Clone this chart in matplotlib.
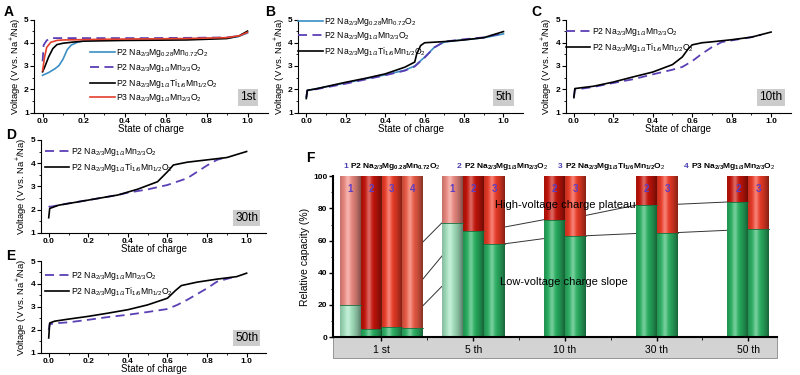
import numpy as np
import matplotlib
matplotlib.use("Agg")
import matplotlib.pyplot as plt

plt.rcParams['font.family'] = ['Liberation Sans', 'DejaVu Sans']
plt.rcParams['mathtext.fontset'] = 'custom'
plt.rcParams['mathtext.rm'] = 'Liberation Sans'
plt.rcParams['mathtext.it'] = 'Liberation Sans:italic'
plt.rcParams['mathtext.bf'] = 'Liberation Sans:bold'

# ---- names ----
n_mg028 = 'P2 Na$_{2/3}$Mg$_{0.28}$Mn$_{0.72}$O$_2$'
n_mg13 = 'P2 Na$_{2/3}$Mg$_{1/3}$Mn$_{2/3}$O$_2$'
n_ti = 'P2 Na$_{2/3}$Mg$_{1/3}$Ti$_{1/6}$Mn$_{1/2}$O$_2$'
n_p3 = 'P3 Na$_{2/3}$Mg$_{1/3}$Mn$_{2/3}$O$_2$'

# ---- A: 1st charge ----
a_blue_x = [0, 0.03, 0.06, 0.08, 0.10, 0.12, 0.14, 0.17, 0.2, 0.3, 0.5, 0.7, 0.9, 0.95, 1.0]
a_blue_y = [2.6, 2.72, 2.88, 3.02, 3.3, 3.7, 3.9, 4.02, 4.08, 4.12, 4.15, 4.17, 4.2, 4.25, 4.42]
a_purp_x = [0, 0.005, 0.02, 0.04, 0.1, 0.3, 0.5, 0.7, 0.9, 0.95, 1.0]
a_purp_y = [3.2, 3.9, 4.1, 4.2, 4.2, 4.2, 4.2, 4.21, 4.23, 4.28, 4.45]
a_blk_x = [0, 0.01, 0.03, 0.05, 0.07, 0.1, 0.15, 0.2, 0.4, 0.7, 0.9, 0.96, 1.0]
a_blk_y = [2.75, 2.95, 3.4, 3.75, 3.92, 3.98, 4.03, 4.07, 4.1, 4.12, 4.18, 4.3, 4.5]
a_red_x = [0, 0.01, 0.02, 0.04, 0.07, 0.1, 0.3, 0.7, 0.9, 0.96, 1.0]
a_red_y = [2.8, 3.4, 3.8, 4.02, 4.1, 4.12, 4.15, 4.18, 4.22, 4.3, 4.45]

# ---- B: 5th charge ----
b_blue_x = [0, 0.005, 0.05, 0.2, 0.3, 0.4, 0.5, 0.55, 0.6, 0.65, 0.7, 0.8, 0.9, 1.0]
b_blue_y = [1.65, 1.95, 2.02, 2.27, 2.45, 2.62, 2.82, 3.0, 3.38, 3.81, 4.03, 4.13, 4.21, 4.38]
b_purp_x = [0, 0.005, 0.05, 0.2, 0.3, 0.4, 0.5, 0.55, 0.6, 0.65, 0.7, 0.8, 0.9, 1.0]
b_purp_y = [1.65, 1.95, 2.0, 2.24, 2.42, 2.6, 2.8, 2.98, 3.36, 3.8, 4.05, 4.15, 4.23, 4.42]
b_blk_x = [0, 0.005, 0.05, 0.2, 0.3, 0.4, 0.5, 0.55, 0.56, 0.58, 0.6, 0.7, 0.8, 0.9, 1.0]
b_blk_y = [1.6, 1.95, 2.02, 2.3, 2.47, 2.66, 2.95, 3.17, 3.52, 3.88, 4.0, 4.05, 4.12, 4.22, 4.48]

# ---- C: 10th charge ----
c_purp_x = [0, 0.005, 0.1, 0.2, 0.3, 0.4, 0.5, 0.55, 0.6, 0.65, 0.7, 0.75, 0.8, 0.9, 0.95]
c_purp_y = [1.65, 1.98, 2.1, 2.27, 2.43, 2.64, 2.84, 2.96, 3.21, 3.53, 3.81, 4.03, 4.1, 4.24, 4.34]
c_blk_x = [0, 0.005, 0.1, 0.2, 0.3, 0.4, 0.5, 0.55, 0.58, 0.6, 0.65, 0.7, 0.8, 0.9, 1.0]
c_blk_y = [1.64, 2.03, 2.13, 2.31, 2.53, 2.74, 3.06, 3.39, 3.74, 3.91, 4.0, 4.04, 4.13, 4.24, 4.46]

# ---- D: 30th charge ----
d_purp_x = [0, 0.005, 0.1, 0.2, 0.35, 0.4, 0.5, 0.6, 0.7, 0.8, 0.85, 0.88]
d_purp_y = [2.15, 2.12, 2.27, 2.41, 2.63, 2.73, 2.87, 3.06, 3.35, 3.9, 4.14, 4.21]
d_blk_x = [0, 0.005, 0.05, 0.2, 0.35, 0.45, 0.55, 0.6, 0.63, 0.7, 0.8, 0.9, 1.0]
d_blk_y = [1.65, 2.05, 2.19, 2.41, 2.63, 2.88, 3.2, 3.63, 3.92, 4.04, 4.14, 4.24, 4.5]

# ---- E: 50th charge ----
e_purp_x = [0, 0.005, 0.05, 0.1, 0.2, 0.3, 0.4, 0.5, 0.6, 0.65, 0.7, 0.8, 0.85, 0.9, 0.93]
e_purp_y = [2.0, 2.25, 2.3, 2.33, 2.44, 2.56, 2.66, 2.78, 2.91, 3.09, 3.31, 3.81, 4.1, 4.22, 4.29]
e_blk_x = [0, 0.005, 0.03, 0.1, 0.2, 0.3, 0.4, 0.5, 0.6, 0.64, 0.67, 0.75, 0.85, 0.95, 1.0]
e_blk_y = [1.65, 2.3, 2.38, 2.47, 2.59, 2.73, 2.88, 3.09, 3.38, 3.71, 3.93, 4.08, 4.21, 4.32, 4.47]

# ---- F: relative capacity ----
cycles = ['1 st', '5 th', '10 th', '30 th', '50 th']
bar_materials = [[1, 2, 3, 4], [1, 2, 3], [2, 3], [2, 3], [2, 3]]
low_voltage = [[20, 5, 6.5, 5.5], [71, 66, 58], [73, 63], [82, 65], [84, 67]]
material_names = [n_mg028, n_mg13, n_ti, n_p3]

blue = '#3b8fc4'
purple = '#5a3fb5'
red = '#e5402c'

fig = plt.figure(figsize=(8, 3.75), dpi=100)


def volt_axes(rect, label, cyc, lx, ly):
    ax = fig.add_axes(rect)
    ax.set_xlim(-0.04, 1.1)
    ax.set_ylim(1, 5)
    for s in ['top', 'right']:
        ax.spines[s].set_visible(False)
    ax.spines['left'].set_bounds(1, 5)
    ax.set_xticks([0, 0.2, 0.4, 0.6, 0.8, 1.0])
    ax.set_xticks(np.arange(0.1, 1.1, 0.2), minor=True)
    ax.set_yticks([1, 2, 3, 4, 5])
    ax.set_yticks([1.5, 2.5, 3.5, 4.5], minor=True)
    ax.xaxis.set_major_formatter(matplotlib.ticker.FormatStrFormatter('%.1f'))
    ax.tick_params(labelsize=6, length=3, width=0.8, pad=1)
    ax.tick_params(which='minor', length=1.5)
    for t in ax.get_xticklabels() + ax.get_yticklabels():
        t.set_fontweight('bold')
    ax.set_xlabel('State of charge', fontsize=7, labelpad=-1)
    ax.set_ylabel('Voltage (V vs. Na$^{+}$/Na)', fontsize=6.8, labelpad=1)
    ax.text(1.0, 1.65, cyc, fontsize=8.5, ha='center', va='center',
            bbox=dict(fc='#cccccc', ec='none', pad=1.5))
    fig.text(lx, ly, label, fontsize=10, fontweight='bold', va='center')
    return ax


leg_kw = dict(frameon=False, fontsize=6.2, handlelength=2.8, labelspacing=0.3,
              handletextpad=0.2, borderaxespad=0, borderpad=0)

# A
ax = volt_axes([0.043, 0.70, 0.292, 0.248], 'A', '1st', 0.004, 0.968)
ax.plot(a_blue_x, a_blue_y, color=blue, lw=1.2, label=n_mg028)
ax.plot(a_purp_x, a_purp_y, color=purple, lw=1.3, dashes=(5, 3), label=n_mg13)
ax.plot(a_blk_x, a_blk_y, color='black', lw=1.2, label=n_ti)
ax.plot(a_red_x, a_red_y, color=red, lw=1.2, label=n_p3)
ax.legend(loc='upper left', bbox_to_anchor=(0.24, 0.7), **leg_kw)

# B
ax = volt_axes([0.373, 0.70, 0.281, 0.248], 'B', '5th', 0.331, 0.968)
ax.plot(b_blue_x, b_blue_y, color=blue, lw=1.2, label=n_mg028)
ax.plot(b_purp_x, b_purp_y, color=purple, lw=1.3, dashes=(5, 3), label=n_mg13)
ax.plot(b_blk_x, b_blk_y, color='black', lw=1.2, label=n_ti)
ax.legend(loc='upper left', bbox_to_anchor=(0.0, 1.04), **leg_kw)

# C
ax = volt_axes([0.7075, 0.70, 0.281, 0.248], 'C', '10th', 0.664, 0.968)
ax.plot(c_purp_x, c_purp_y, color=purple, lw=1.3, dashes=(5, 3), label=n_mg13)
ax.plot(c_blk_x, c_blk_y, color='black', lw=1.2, label=n_ti)
ax.legend(loc='upper left', bbox_to_anchor=(0.0, 0.93), **leg_kw)

# D
ax = volt_axes([0.051, 0.379, 0.282, 0.248], 'D', '30th', 0.008, 0.64)
ax.plot(d_purp_x, d_purp_y, color=purple, lw=1.3, dashes=(5, 3), label=n_mg13)
ax.plot(d_blk_x, d_blk_y, color='black', lw=1.2, label=n_ti)
ax.legend(loc='upper left', bbox_to_anchor=(0.02, 0.93), **leg_kw)

# E
ax = volt_axes([0.051, 0.059, 0.282, 0.245], 'E', '50th', 0.008, 0.318)
ax.plot(e_purp_x, e_purp_y, color=purple, lw=1.3, dashes=(5, 3), label=n_mg13)
ax.plot(e_blk_x, e_blk_y, color='black', lw=1.2, label=n_ti)
ax.legend(loc='upper left', bbox_to_anchor=(0.02, 0.90), **leg_kw)

# F
red_cols = {1: '#ef8b82', 2: '#c8150b', 3: '#ef3b27', 4: '#ef5c46'}
green_cols = {1: '#a4e4c0', 2: '#28b262', 3: '#2db466', 4: '#2db466'}
w = 0.228

axf = fig.add_axes([0.416, 0.101, 0.555, 0.429])
pos = {}
shade_t = np.linspace(0, 1, 64)
dark = np.zeros((1, 64, 4))
dark[..., 3] = 0.45 * (np.abs(shade_t - 0.38) / 0.62) ** 1.8
light = np.ones((1, 64, 4))
light[..., 3] = 0.35 * np.exp(-((shade_t - 0.38) / 0.13) ** 2)

for i, (mats, lows) in enumerate(zip(bar_materials, low_voltage)):
    n = len(mats)
    for k, (m, lv) in enumerate(zip(mats, lows)):
        xc = i + 1 + (k - (n - 1) / 2) * w
        pos[(i, m)] = (xc, lv)
        axf.bar(xc, lv, width=w, color=green_cols[m], zorder=2)
        axf.bar(xc, 100 - lv, bottom=lv, width=w, color=red_cols[m], zorder=2)
        for img in (dark, light):
            axf.imshow(img, extent=(xc - w / 2, xc + w / 2, 0, 100),
                       aspect='auto', zorder=2.5, interpolation='bilinear')
        axf.plot([xc - w / 2, xc + w / 2], [lv, lv], color='#1d6b3c', lw=0.6, zorder=3)
        axf.text(xc, 92, str(m), color='#5b3fc4', fontsize=7, fontweight='bold',
                 ha='center', va='center', zorder=4)

# connecting lines between the same material in successive cycles
for m in [1, 2, 3]:
    for i in range(len(cycles) - 1):
        if (i, m) in pos and (i + 1, m) in pos:
            x0, y0 = pos[(i, m)]
            x1, y1 = pos[(i + 1, m)]
            axf.plot([x0 + w / 2, x1 - w / 2], [y0, y1], color='#333333', lw=0.7, zorder=1)

axf.set_xlim(0.47, 5.31)
axf.set_ylim(0, 100)
for s in ['top', 'right']:
    axf.spines[s].set_visible(False)
axf.spines['left'].set_linewidth(1.5)
axf.spines['bottom'].set_linewidth(1.5)
axf.spines['bottom'].set_zorder(5)
axf.set_xticks(range(1, 6))
axf.set_xticklabels(cycles)
axf.set_xticks(np.arange(1.5, 5.5, 1), minor=True)
axf.set_yticks(range(0, 101, 20))
axf.set_yticks(range(10, 100, 20), minor=True)
axf.tick_params(axis='y', labelsize=6, length=3, width=1, pad=1)
axf.tick_params(axis='y', which='minor', length=1.5)
axf.tick_params(axis='x', labelsize=7.5, length=3, width=1, pad=3)
axf.tick_params(axis='x', which='minor', length=2)
for t in axf.get_yticklabels():
    t.set_fontweight('bold')
axf.set_ylabel('Relative capacity (%)', fontsize=7.5, labelpad=2)
band = matplotlib.patches.Rectangle((0, -0.13), 1, 0.13, transform=axf.transAxes,
                                    fc='#d3d3d3', ec='#888888', lw=0.6,
                                    clip_on=False, zorder=0)
axf.add_patch(band)
axf.text(2.24, 82, 'High-voltage charge plateau', fontsize=8, zorder=6, va='center')
axf.text(2.29, 34, 'Low-voltage charge slope', fontsize=8, zorder=6, va='center')

fig.text(0.383, 0.58, 'F', fontsize=10, fontweight='bold', va='center')
top_x = [0.429, 0.571, 0.6975, 0.855]
for j, (tx, nm) in enumerate(zip(top_x, material_names)):
    fig.text(tx, 0.557, str(j + 1), color='#4a3fb0', fontsize=6, fontweight='bold', va='center')
    bold_nm = nm.replace('$_{', '$_{\\mathbf{').replace('}$', '}}$')
    fig.text(tx + 0.009, 0.557, bold_nm, fontsize=6, fontweight='bold', va='center')

fig.savefig('out.png', dpi=100)
